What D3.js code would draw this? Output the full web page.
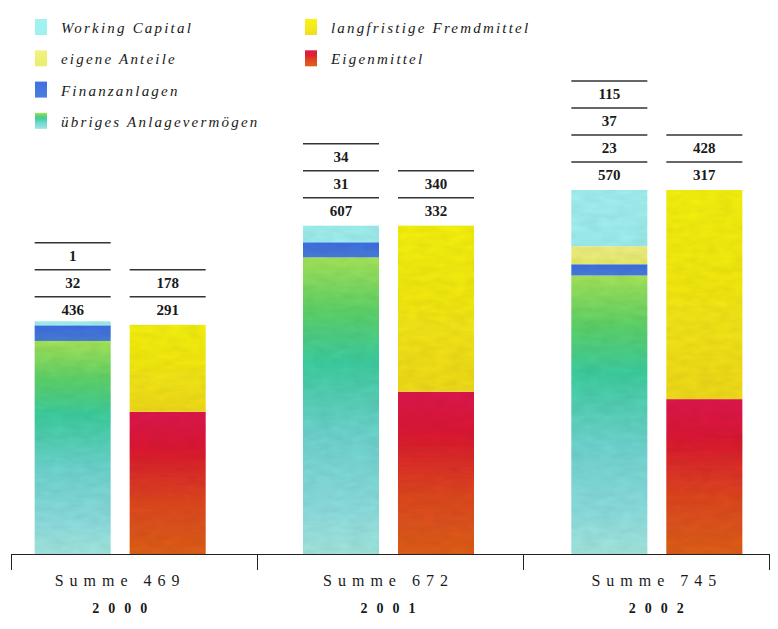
<!DOCTYPE html>
<html>
<head>
<meta charset="utf-8">
<script src="https://cdn.jsdelivr.net/npm/d3@7"></script>
<style>
  body { margin: 0; background: #fff; }
  text { font-family: "Liberation Serif", "DejaVu Serif", serif; fill: #1a1a1a; }
</style>
</head>
<body>
<div id="chart-area"></div>
<script>
// data
const years = ["2000", "2001", "2002"]
const sums = [469, 672, 745]
const uebrigesAnlagevermoegen = [436, 607, 570]
const finanzanlagen = [32, 31, 23]
const eigeneAnteile = [0, 0, 37]
const workingCapital = [1, 34, 115]
const eigenmittel = [291, 332, 317]
const langfristigeFremdmittel = [178, 340, 428]

const aktivaKeys = ["uebrig", "finanz", "eigene", "working"]
const passivaKeys = ["eigenmittel", "fremd"]
const legendLeft = [
  { key: "working", label: "Working Capital" },
  { key: "eigene", label: "eigene Anteile" },
  { key: "finanz", label: "Finanzanlagen" },
  { key: "uebrig", label: "übriges Anlagevermögen" }
]
const legendRight = [
  { key: "fremd", label: "langfristige Fremdmittel" },
  { key: "eigenmittel", label: "Eigenmittel" }
]

const rows = years.map((y, i) => ({
  year: y,
  uebrig: uebrigesAnlagevermoegen[i],
  finanz: finanzanlagen[i],
  eigene: eigeneAnteile[i],
  working: workingCapital[i],
  eigenmittel: eigenmittel[i],
  fremd: langfristigeFremdmittel[i]
}))

const width = 778, height = 629
const baseline = 554

const svg = d3.select("#chart-area").append("svg")
  .attr("width", width).attr("height", height)

// gradients to mimic the painted textures
const defs = svg.append("defs")
const gradients = {
  uebrig: [["0%", "#a6e65a"], ["18%", "#5fd46a"], ["35%", "#3fcfa0"], ["60%", "#6fd6d0"], ["85%", "#8edfe0"], ["100%", "#a4e8e0"]],
  finanz: [["0%", "#3f6fe6"], ["100%", "#4a7fd8"]],
  eigene: [["0%", "#f1f284"], ["100%", "#e9ee6c"]],
  working: [["0%", "#a3f2f2"], ["100%", "#9ff0f0"]],
  fremd: [["0%", "#f7f316"], ["60%", "#f4e81a"], ["100%", "#f2dc20"]],
  eigenmittel: [["0%", "#e01a50"], ["30%", "#de2030"], ["65%", "#e04a22"], ["100%", "#e0601e"]]
}
Object.entries(gradients).forEach(([k, stops]) => {
  const g = defs.append("linearGradient").attr("id", "g-" + k)
    .attr("x1", 0).attr("y1", 0).attr("x2", 0).attr("y2", 1)
  stops.forEach(s => g.append("stop").attr("offset", s[0]).attr("stop-color", s[1]))
})

// light noise for texture
const filt = defs.append("filter").attr("id", "grain")
filt.append("feTurbulence").attr("type", "fractalNoise")
  .attr("baseFrequency", "0.06 0.15").attr("numOctaves", 2).attr("seed", 4).attr("result", "n")
filt.append("feColorMatrix").attr("in", "n").attr("type", "matrix")
  .attr("values", "0 0 0 0 0  0 0 0 0 0  0 0 0 0 0  0 0 0 0.18 0").attr("result", "a")
filt.append("feComposite").attr("in", "a").attr("in2", "SourceGraphic").attr("operator", "in").attr("result", "b")
filt.append("feMerge").call(m => {
  m.append("feMergeNode").attr("in", "SourceGraphic")
  m.append("feMergeNode").attr("in", "b")
})

// scales
const xGroup = d3.scaleBand().domain(years).range([-14, 791])
const xSide = d3.scaleBand().domain(["aktiva", "passiva"]).range([-85.5, 85.5]).paddingInner(0.2)
const yScale = d3.scaleLinear().domain([0, 745]).range([baseline, 190])

const stackA = d3.stack().keys(aktivaKeys)(rows)
const stackP = d3.stack().keys(passivaKeys)(rows)

const barX = (year, side) => xGroup(year) + xGroup.bandwidth() / 2 + xSide(side)

function drawStack(series, side) {
  const g = svg.append("g").attr("class", "bars-" + side).attr("filter", "url(#grain)")
  series.forEach(s => {
    g.selectAll(null).data(s.filter(d => d[1] > d[0])).join("rect")
      .attr("x", d => barX(d.data.year, side))
      .attr("width", xSide.bandwidth())
      .attr("y", d => Math.min(yScale(d[1]), yScale(d[0]) - 4))
      .attr("height", d => Math.max(yScale(d[0]) - yScale(d[1]), 4))
      .attr("fill", `url(#g-${s.key})`)
  })
}
drawStack(stackA, "aktiva")
drawStack(stackP, "passiva")

// value labels stacked above each bar
const rowH = 27
function drawLabels(keys, side) {
  const g = svg.append("g").attr("class", "labels-" + side)
  rows.forEach(r => {
    const vals = keys.map(k => r[k]).filter(v => v > 0)
    const total = d3.sum(keys, k => r[k])
    const top = yScale(total)
    const x0 = barX(r.year, side)
    vals.forEach((v, i) => {
      g.append("text")
        .attr("x", x0 + xSide.bandwidth() / 2)
        .attr("y", top - 10 - i * rowH)
        .attr("text-anchor", "middle")
        .attr("font-size", 15).attr("font-weight", "bold")
        .text(v)
      g.append("line")
        .attr("x1", x0).attr("x2", x0 + xSide.bandwidth())
        .attr("y1", top - 28 - i * rowH).attr("y2", top - 28 - i * rowH)
        .attr("stroke", "#333").attr("stroke-width", 1.5)
    })
  })
}
drawLabels(aktivaKeys, "aktiva")
drawLabels(passivaKeys, "passiva")

// axis with group boundaries
const boundary = d3.scaleLinear().domain([0, 1, 2, 3]).range([11, 257, 523, 769])
svg.append("g")
  .attr("transform", `translate(0,${baseline})`)
  .call(d3.axisBottom(boundary).tickValues([0, 1, 2, 3]).tickSize(16).tickSizeOuter(0).tickFormat(""))
  .call(g => g.select(".domain").attr("stroke", "#222").attr("stroke-width", 1))
  .call(g => g.selectAll(".tick line").attr("stroke", "#222"))

const labels = svg.append("g")
years.forEach((y, i) => {
  const cx = xGroup(y) + xGroup.bandwidth() / 2
  labels.append("text")
    .attr("x", cx).attr("y", 586)
    .attr("text-anchor", "middle")
    .attr("font-size", 16).attr("letter-spacing", 6)
    .text("Summe " + sums[i])
  labels.append("text")
    .attr("x", cx + 4).attr("y", 613)
    .attr("text-anchor", "middle")
    .attr("font-size", 14).attr("font-weight", "bold").attr("letter-spacing", 9)
    .text(y)
})

// legend
function drawLegend(items, x, y0) {
  const g = svg.append("g").attr("transform", `translate(${x},${y0})`)
  items.forEach((d, i) => {
    const y = i * 31.3
    g.append("rect").attr("x", 0).attr("y", y).attr("width", 12).attr("height", 16)
      .attr("fill", `url(#g-${d.key})`)
    g.append("text").attr("x", 26).attr("y", y + 14)
      .attr("font-size", 15).attr("font-style", "italic").attr("letter-spacing", 2.2)
      .text(d.label)
  })
}
drawLegend(legendLeft, 35, 19)
drawLegend(legendRight, 305, 19)
</script>
</body>
</html>
